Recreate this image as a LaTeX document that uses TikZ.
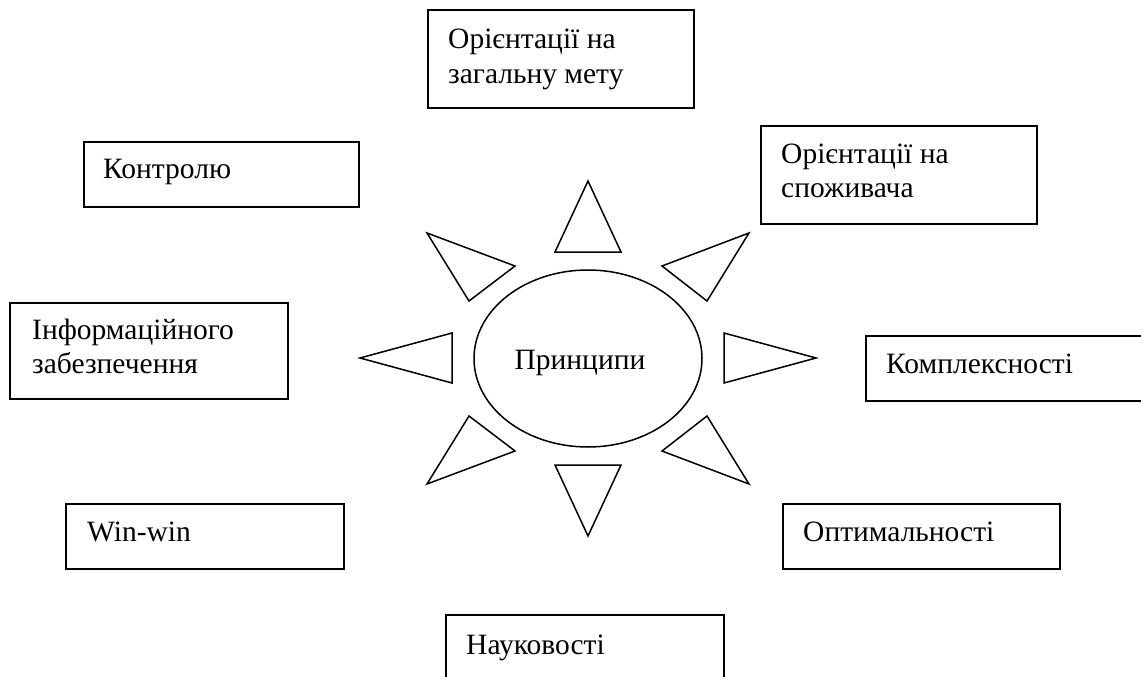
\documentclass[tikz,border=0pt]{standalone}
\usepackage{fontspec}
\setmainfont{Liberation Serif}
\usetikzlibrary{shapes.geometric,calc}
\tikzset{
  box/.style={draw, line width=1.6pt, rectangle, inner sep=0pt, anchor=north west},
  lbl/.style={anchor=base west, inner sep=0pt, font=\fontsize{29.5}{34}\selectfont},
  ray/.style={draw, line width=1.5pt, line join=miter},
}
\begin{document}
\begin{tikzpicture}[x=1pt, y=-1pt]
\useasboundingbox (0,0) rectangle (1141,677);
\clip (0,0) rectangle (1141,677);
% boxes
\node[box, minimum width=266pt, minimum height=98pt] (goal) at (427,9) {};
\node[box, minimum width=275pt, minimum height=65pt] (ctrl) at (83,141) {};
\node[box, minimum width=276pt, minimum height=98pt] (cons) at (760,125) {};
\node[box, minimum width=278pt, minimum height=96pt] (info) at (9,302) {};
\node[box, minimum width=300pt, minimum height=65pt] (comp) at (865,335) {};
\node[box, minimum width=278pt, minimum height=65pt] (win) at (65,503) {};
\node[box, minimum width=277pt, minimum height=65pt] (opt) at (782,503) {};
\node[box, minimum width=278pt, minimum height=90pt] (sci) at (445,614) {};
% texts
\node[lbl] (goalA) at ($(goal.north west)+(21,40)$) {Орієнтації на};
\node[lbl] (goalB) at ($(goal.north west)+(21,75)$) {загальну мету};
\node[lbl] (ctrlA) at ($(ctrl.north west)+(20,37)$) {Контролю};
\node[lbl] (consA) at ($(cons.north west)+(21,38)$) {Орієнтації на};
\node[lbl] (consB) at ($(cons.north west)+(21,72)$) {споживача};
\node[lbl] (infoA) at ($(info.north west)+(23,37)$) {Інформаційного};
\node[lbl] (infoB) at ($(info.north west)+(23,71)$) {забезпечення};
\node[lbl] (compA) at ($(comp.north west)+(21,38)$) {Комплексності};
\node[lbl] (winA) at ($(win.north west)+(22,38)$) {Win-win};
\node[lbl] (optA) at ($(opt.north west)+(21,38)$) {Оптимальності};
\node[lbl] (sciA) at ($(sci.north west)+(21,40)$) {Науковості};
% centre
\node[draw, line width=1.5pt, ellipse, minimum width=228pt, minimum height=177pt, inner sep=0pt] (core) at (588,358.5) {};
\node[anchor=base, inner sep=0pt, font=\fontsize{29.5}{34}\selectfont] (coreT) at (580,369) {Принципи};
% rays
\draw[ray] (588,181) -- (555,252) -- (621,252) -- cycle;
\draw[ray] (427,233) -- (515,266) -- (469,301) -- cycle;
\draw[ray] (749,233) -- (662,266) -- (707,301) -- cycle;
\draw[ray] (360,358) -- (452,333) -- (452,383) -- cycle;
\draw[ray] (816,358) -- (724,333) -- (724,383) -- cycle;
\draw[ray] (427,484) -- (515,451) -- (469,416) -- cycle;
\draw[ray] (749,484) -- (662,451) -- (707,416) -- cycle;
\draw[ray] (555,465) -- (621,465) -- (588,536) -- cycle;
\end{tikzpicture}
\end{document}
